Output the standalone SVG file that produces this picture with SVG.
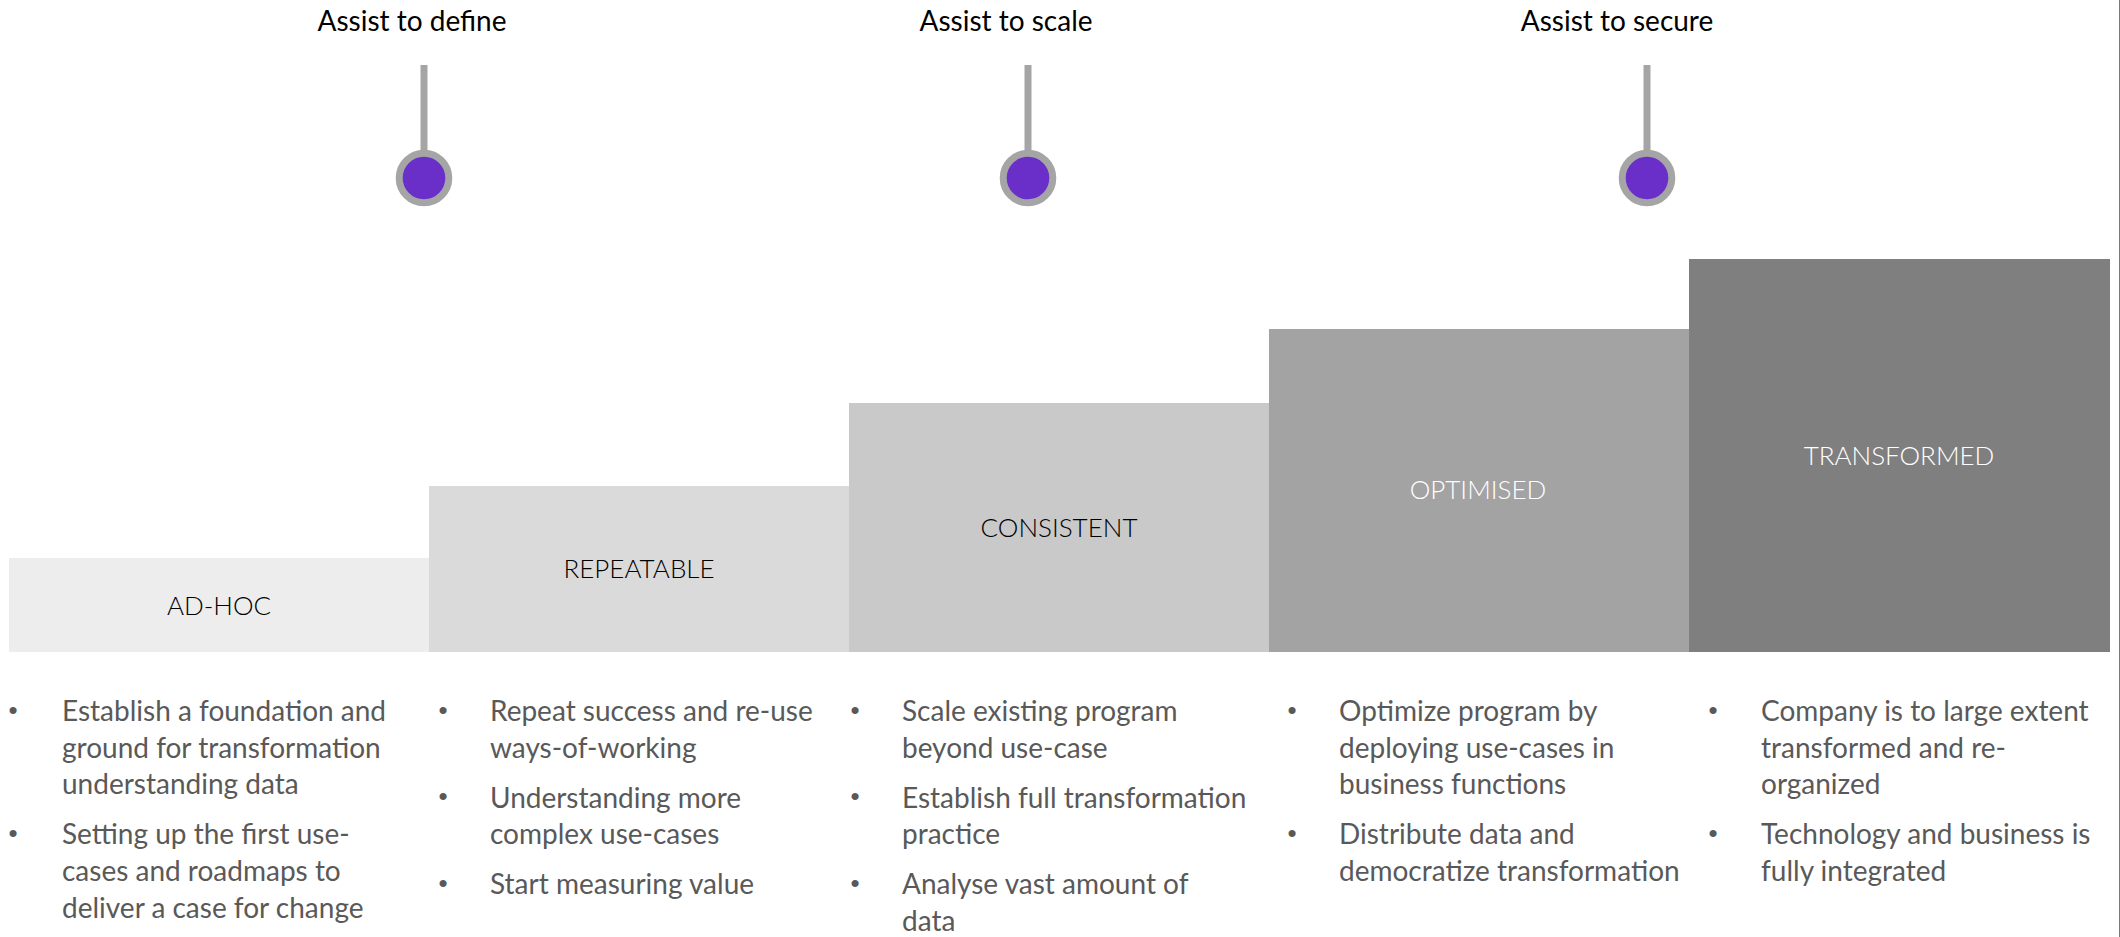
<svg xmlns="http://www.w3.org/2000/svg" width="2120" height="937" viewBox="0 0 2120 937">
<style>
.hdr{font-family:Lato,"Liberation Sans",sans-serif;font-size:28px;fill:#000;text-anchor:middle}
.lbl{font-family:Lato,"Liberation Sans",sans-serif;font-size:26px;font-weight:300;text-anchor:middle}
.dk{fill:#000}
.wt{fill:#fff}
.bt{font-family:Lato,"Liberation Sans",sans-serif;font-size:28px;fill:#595959}
.bul{font-family:"Liberation Sans",sans-serif;font-size:26px;fill:#595959;text-anchor:middle}
.stem{stroke:#A5A5A5;stroke-width:7;fill:none}
.pin{fill:#6B2FC9;stroke:#A5A5A5;stroke-width:7}
</style>
<rect x="0" y="0" width="2120" height="937" fill="#fff"/>
<line x1="2119.5" y1="0" x2="2119.5" y2="937" stroke="#7a7a7a" stroke-width="1"/>

<g id="connectors">
<line class="stem" x1="424" y1="65" x2="424" y2="152"/>
<line class="stem" x1="1028" y1="65" x2="1028" y2="152"/>
<line class="stem" x1="1647" y1="65" x2="1647" y2="152"/>
</g>

<g id="marker-define">
<text class="hdr" x="412" y="31">Assist to define</text>
<circle class="pin" cx="424" cy="178" r="24.8"/>
</g>
<g id="marker-scale">
<text class="hdr" x="1006" y="31">Assist to scale</text>
<circle class="pin" cx="1028" cy="178" r="24.8"/>
</g>
<g id="marker-secure">
<text class="hdr" x="1617" y="31">Assist to secure</text>
<circle class="pin" cx="1647" cy="178" r="24.8"/>
</g>

<g id="step-adhoc">
<rect x="9" y="558" width="420" height="94" fill="#EDEDED"/>
<text class="lbl dk" x="219" y="615">AD-HOC</text>
</g>
<g id="step-repeatable">
<rect x="429" y="486" width="420" height="166" fill="#DADADA"/>
<text class="lbl dk" x="639" y="578">REPEATABLE</text>
</g>
<g id="step-consistent">
<rect x="849" y="403" width="420" height="249" fill="#C9C9C9"/>
<text class="lbl dk" x="1059" y="537">CONSISTENT</text>
</g>
<g id="step-optimised">
<rect x="1269" y="329" width="420" height="323" fill="#A3A3A3"/>
<text class="lbl wt" x="1478" y="499">OPTIMISED</text>
</g>
<g id="step-transformed">
<rect x="1689" y="259" width="421" height="393" fill="#7F7F7F"/>
<text class="lbl wt" x="1899" y="465">TRANSFORMED</text>
</g>

<g id="bullets-adhoc">
<text class="bul" x="13" y="719">•</text>
<text class="bt" x="62" y="721">Establish a foundation and</text>
<text class="bt" x="62" y="757.7">ground for transformation</text>
<text class="bt" x="62" y="794.3">understanding data</text>
<text class="bul" x="13" y="842">•</text>
<text class="bt" x="62" y="844.3">Setting up the first use-</text>
<text class="bt" x="62" y="881">cases and roadmaps to</text>
<text class="bt" x="62" y="917.7">deliver a case for change</text>
</g>
<g id="bullets-repeatable">
<text class="bul" x="443" y="719">•</text>
<text class="bt" x="490" y="721">Repeat success and re-use</text>
<text class="bt" x="490" y="757.7">ways-of-working</text>
<text class="bul" x="443" y="805">•</text>
<text class="bt" x="490" y="807.7">Understanding more</text>
<text class="bt" x="490" y="844.3">complex use-cases</text>
<text class="bul" x="443" y="892">•</text>
<text class="bt" x="490" y="894.3">Start measuring value</text>
</g>
<g id="bullets-consistent">
<text class="bul" x="855" y="719">•</text>
<text class="bt" x="902" y="721">Scale existing program</text>
<text class="bt" x="902" y="757.7">beyond use-case</text>
<text class="bul" x="855" y="805">•</text>
<text class="bt" x="902" y="807.7">Establish full transformation</text>
<text class="bt" x="902" y="844.3">practice</text>
<text class="bul" x="855" y="892">•</text>
<text class="bt" x="902" y="894.3">Analyse vast amount of</text>
<text class="bt" x="902" y="931">data</text>
</g>
<g id="bullets-optimised">
<text class="bul" x="1292" y="719">•</text>
<text class="bt" x="1339" y="721">Optimize program by</text>
<text class="bt" x="1339" y="757.7">deploying use-cases in</text>
<text class="bt" x="1339" y="794.3">business functions</text>
<text class="bul" x="1292" y="842">•</text>
<text class="bt" x="1339" y="844.3">Distribute data and</text>
<text class="bt" x="1339" y="881">democratize transformation</text>
</g>
<g id="bullets-transformed">
<text class="bul" x="1713" y="719">•</text>
<text class="bt" x="1761" y="721">Company is to large extent</text>
<text class="bt" x="1761" y="757.7">transformed and re-</text>
<text class="bt" x="1761" y="794.3">organized</text>
<text class="bul" x="1713" y="842">•</text>
<text class="bt" x="1761" y="844.3">Technology and business is</text>
<text class="bt" x="1761" y="881">fully integrated</text>
</g>
</svg>
